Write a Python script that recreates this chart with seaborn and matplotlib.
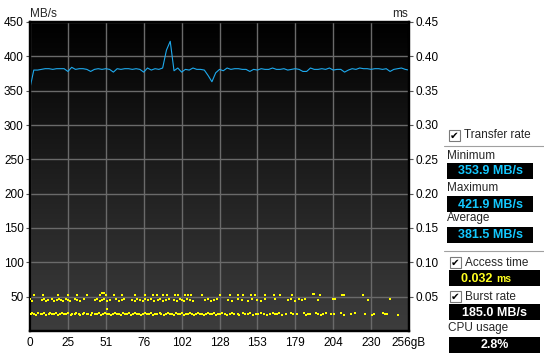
import numpy as np
import pandas as pd
import matplotlib
matplotlib.use("Agg")
import matplotlib.pyplot as plt
from matplotlib.colors import LinearSegmentedColormap
from matplotlib.patches import Rectangle
from matplotlib.lines import Line2D
import seaborn as sns

# ---------------- data ----------------
x_tick_labels = ["0", "25", "51", "76", "102", "128", "153", "179", "204", "230", "256gB"]
mbs_ticks = [50, 100, 150, 200, 250, 300, 350, 400, 450]
ms_ticks = [0.05, 0.10, 0.15, 0.20, 0.25, 0.30, 0.35, 0.40, 0.45]

transfer_mbs = [354, 380, 380, 381, 382, 382, 381, 382, 382, 382,
                378, 384, 381, 382, 382, 381, 378, 381, 382, 381,
                382, 381, 377, 382, 381, 382, 382, 381, 382, 381,
                377, 383, 380, 382, 381, 383, 409, 421.9, 379, 383,
                377, 381, 380, 383, 381, 381, 380, 372, 363, 376,
                381, 379, 383, 381, 382, 382, 381, 381, 378, 381,
                380, 382, 381, 381, 383, 381, 381, 382, 380, 381,
                382, 381, 378, 378, 383, 381, 381, 382, 381, 383,
                380, 381, 381, 377, 380, 382, 381, 383, 382, 382,
                381, 382, 382, 381, 382, 378, 381, 382, 383, 381, 380]

access_lower = [(0.5,.025),(1.6,.026),(3.0,.025),(4.1,.024),(5.5,.026),(7.2,.025),(8.4,.025),(9.7,.026),(11.0,.024),(12.6,.025),
    (13.8,.026),(15.0,.025),(16.5,.025),(17.7,.026),(19.2,.024),(20.4,.025),(21.9,.026),(23.1,.025),(24.5,.025),(25.8,.026),
    (27.4,.024),(28.6,.025),(30.1,.025),(31.3,.026),(32.9,.025),(34.0,.024),(35.6,.025),(36.8,.026),(38.3,.025),(39.5,.025),
    (41.0,.024),(42.2,.026),(43.8,.025),(45.0,.025),(46.3,.026),(47.9,.024),(49.1,.025),(50.6,.026),(51.9,.025),(53.3,.025),
    (54.6,.024),(56.0,.025),(57.4,.026),(58.7,.025),(60.1,.025),(61.6,.024),(62.8,.026),(64.3,.025),(65.5,.025),(67.0,.026),
    (68.2,.024),(69.8,.025),(71.0,.026),(72.5,.025),(73.7,.025),(75.2,.024),(76.5,.025),(78.0,.026),(79.3,.025),(80.6,.025),
    (82.0,.026),(83.4,.024),(84.7,.025),(86.1,.025),(87.5,.026),(88.8,.025),(90.2,.024),(91.6,.025),(92.9,.026),(94.4,.025),
    (95.6,.025),(97.1,.024),(98.3,.026),(99.8,.025),(101.1,.025),(102.5,.026),(103.8,.024),(105.3,.025),(106.5,.025),(108.0,.026),
    (109.2,.025),(110.7,.024),(112.0,.025),(113.4,.026),(114.8,.025),(116.1,.025),(117.5,.024),(118.9,.025),(120.2,.026),(121.7,.025),
    (123.0,.025),(124.4,.026),(125.7,.024),(127.2,.025),(128.5,.025),(129.9,.026),(131.4,.025),(133.0,.024),(135.1,.025),(136.4,.026),
    (138.0,.025),(140.2,.025),(141.5,.024),(143.6,.026),(145.0,.025),(147.3,.025),(148.6,.026),(150.8,.024),(152.4,.025),(154.0,.025),
    (156.3,.026),(158.1,.025),(160.0,.024),(161.8,.025),(163.9,.026),(165.2,.025),(166.8,.025),(168.5,.026),(170.1,.024),(173.0,.025),
    (176.4,.026),(177.8,.025),(180.2,.025),(185.1,.026),(186.4,.024),(188.0,.025),(189.3,.025),(193.2,.026),(194.6,.025),(196.3,.024),
    (198.0,.025),(199.6,.026),(203.4,.025),(205.1,.025),(210.3,.026),(211.8,.024),(217.0,.025),(219.2,.026),(226.1,.025),(231.0,.024),
    (232.4,.025),(238.2,.026),(239.6,.025),(241.1,.025),(248.3,.024)]

access_upper = [(0.3,.046),(1.5,.044),(8.0,.045),(9.5,.046),(11.0,.044),(12.3,.045),(15.0,.046),(16.5,.044),(18.0,.045),(19.8,.046),
    (21.0,.045),(22.5,.044),(24.0,.046),(25.5,.045),(27.0,.044),(30.5,.046),(32.0,.045),(34.0,.044),(36.5,.046),(44.0,.045),
    (45.5,.046),(47.0,.044),(48.8,.045),(50.2,.046),(52.0,.044),(54.0,.045),(58.0,.046),(60.0,.044),(62.0,.045),(63.5,.046),
    (69.0,.045),(71.0,.044),(72.5,.046),(74.0,.045),(76.0,.044),(78.0,.046),(79.5,.045),(82.0,.046),(83.5,.044),(86.5,.045),
    (88.0,.046),(90.0,.044),(92.0,.045),(94.0,.046),(97.0,.045),(99.0,.044),(101.0,.046),(102.5,.045),(104.0,.044),(106.0,.046),
    (108.0,.045),(110.0,.044),(118.0,.045),(120.0,.046),(122.0,.044),(124.5,.045),(126.0,.046),(134.0,.045),(136.5,.044),(140.5,.046),
    (143.5,.045),(147.0,.044),(150.0,.046),(153.5,.045),(156.0,.044),(158.5,.046),(165.5,.046),(174.0,.045),(176.0,.046),(179.0,.044),
    (182.0,.046),(184.0,.045),(186.0,.046),(194.5,.045),(205.0,.046),(206.0,.046),(228.0,.045),(243.0,.046)]

access_top = [(3.0,.053),(9.0,.052),(19.0,.053),(26.0,.052),(32.0,.053),(38.5,.052),(47.0,.053),(48.5,.055),(50.0,.055),(51.0,.053),
    (57.0,.052),(62.0,.053),(71.0,.052),(78.0,.053),(83.0,.052),(86.0,.053),(90.0,.052),(92.5,.053),(98.0,.052),(100.0,.053),
    (105.0,.052),(107.0,.053),(109.0,.052),(116.0,.053),(128.0,.052),(135.0,.053),(140.5,.052),(144.0,.053),(149.0,.052),(152.0,.053),
    (159.0,.052),(165.0,.053),(169.0,.053),(177.0,.052),(191.0,.054),(192.0,.054),(196.0,.052),(211.0,.053),(212.0,.053),(225.0,.052)]

access_other = [(51.8, .032)]

stat_min = "353.9 MB/s"
stat_max = "421.9 MB/s"
stat_avg = "381.5 MB/s"
access_time = "0.032"
burst_rate = "185.0 MB/s"
cpu_usage = "2.8%"

# ---------------- figure ----------------
sns.set_style("white")
plt.rcParams["font.family"] = ["Liberation Sans", "DejaVu Sans"]

W, H = 544, 358
fig = plt.figure(figsize=(W / 100, H / 100), dpi=100, facecolor="white")

def fx(px):
    return px / W

def fy(py):
    return 1 - py / H

L, R, T, B = 30, 409, 22, 331
ax = fig.add_axes([fx(L), fy(B), (R - L) / W, (B - T) / H])

x_max = 256.0
x_pos = np.linspace(0, x_max, len(transfer_mbs))
df_t = pd.DataFrame({"gB": x_pos, "MBs": transfer_mbs})

# gradient background
grad = np.linspace(0, 1, 256).reshape(-1, 1)
cmap = LinearSegmentedColormap.from_list("bg", ["#000000", "#3d3d3d"])
ax.imshow(grad, cmap=cmap, extent=[0, x_max, 0, 450], aspect="auto",
          origin="upper", zorder=0, interpolation="bilinear")

ax.set_xlim(0, x_max)
ax.set_ylim(0, 450)
major_x = np.linspace(0, x_max, len(x_tick_labels))
ax.set_xticks(major_x)
ax.set_xticklabels(x_tick_labels)
ax.set_xticks((major_x[:-1] + major_x[1:]) / 2, minor=True)
ax.set_yticks(mbs_ticks)
ax.set_yticklabels([str(v) for v in mbs_ticks])
ax.grid(True, which="major", color="#6a6a6a", linewidth=1.0)
ax.set_axisbelow("line")

sns.lineplot(data=df_t, x="gB", y="MBs", ax=ax, color="#1eaaee",
             linewidth=0.8, zorder=3)
ax.set_xlabel("")
ax.set_ylabel("")

ax2 = ax.twinx()
acc = access_lower + access_upper + access_top + access_other
df_a = pd.DataFrame(acc, columns=["gB", "ms"])
sns.scatterplot(data=df_a, x="gB", y="ms", ax=ax2, color="#ffff00",
                marker="s", s=0.9, linewidth=0, zorder=4)
ax2.set_ylim(0, 0.45)
ax2.set_xlim(0, x_max)
ax2.set_yticks(ms_ticks)
ax2.set_yticklabels([f"{v:.2f}" for v in ms_ticks])
ax2.set_xlabel("")
ax2.set_ylabel("")
ax2.grid(False)

for a in (ax, ax2):
    for s in a.spines.values():
        s.set_color("#000000")
        s.set_linewidth(1.6)

ax.tick_params(axis="both", which="major", direction="out", length=3,
               width=0.8, color="#555555", labelsize=8.5, pad=1.5,
               labelcolor="#000000")
ax.tick_params(axis="x", which="minor", direction="out", length=2,
               width=0.8, color="#555555")
ax2.tick_params(axis="y", which="major", direction="out", length=3,
                width=0.8, color="#555555", labelsize=8.5, pad=1.5,
                labelcolor="#000000")

fig.text(fx(30), fy(14), "MB/s", ha="left", va="center", fontsize=8.5)
fig.text(fx(408), fy(14), "ms", ha="right", va="center", fontsize=8.5)

# ---------------- right panel ----------------
def checkbox(px, py, label):
    fig.patches.append(Rectangle((fx(px), fy(py + 11)), 11 / W, 11 / H,
                                 transform=fig.transFigure, facecolor="white",
                                 edgecolor="#7a7a7a", linewidth=0.8))
    fig.text(fx(px + 5.5), fy(py + 5.8), "\u2714", ha="center", va="center",
             fontsize=7.5, family=["DejaVu Sans"], color="black")
    fig.text(fx(px + 15), fy(py + 5.5), label, ha="left", va="center",
             fontsize=8.5)

def box(px0, px1, py0, py1, text, color, size=9):
    fig.patches.append(Rectangle((fx(px0), fy(py1)), (px1 - px0) / W,
                                 (py1 - py0) / H, transform=fig.transFigure,
                                 facecolor="black", edgecolor="none"))
    fig.text(fx((px0 + px1) / 2), fy((py0 + py1) / 2 + 0.5), text,
             ha="center", va="center", fontsize=size, fontweight="bold",
             color=color)

def sep(py):
    fig.lines.append(Line2D([fx(444), fx(544)], [fy(py), fy(py)],
                            transform=fig.transFigure, color="#a0a0a0",
                            linewidth=0.8))

cyan = "#14c8ff"
checkbox(449, 130, "Transfer rate")
sep(146)
fig.text(fx(447), fy(156), "Minimum", ha="left", va="center", fontsize=8.5)
box(447, 533, 163, 179, stat_min, cyan)
fig.text(fx(447), fy(188), "Maximum", ha="left", va="center", fontsize=8.5)
box(447, 533, 196, 212, stat_max, cyan)
fig.text(fx(447), fy(218), "Average", ha="left", va="center", fontsize=8.5)
box(447, 533, 227, 243, stat_avg, cyan)
sep(251)

checkbox(450, 257, "Access time")
fig.patches.append(Rectangle((fx(449), fy(286)), 91 / W, 16 / H,
                             transform=fig.transFigure, facecolor="black",
                             edgecolor="none"))
fig.text(fx(496), fy(278.5), access_time + " ", ha="right", va="center",
         fontsize=9, fontweight="bold", color="#ffff20")
fig.text(fx(496), fy(279), "ms", ha="left", va="center",
         fontsize=7.5, fontweight="bold", color="#ffff20")

checkbox(450, 291, "Burst rate")
box(449, 540, 304, 320, burst_rate, "white")
fig.text(fx(448), fy(328), "CPU usage", ha="left", va="center", fontsize=8.5)
box(449, 540, 337, 353, cpu_usage, "white")

fig.savefig("out.png", dpi=100, facecolor="white")
